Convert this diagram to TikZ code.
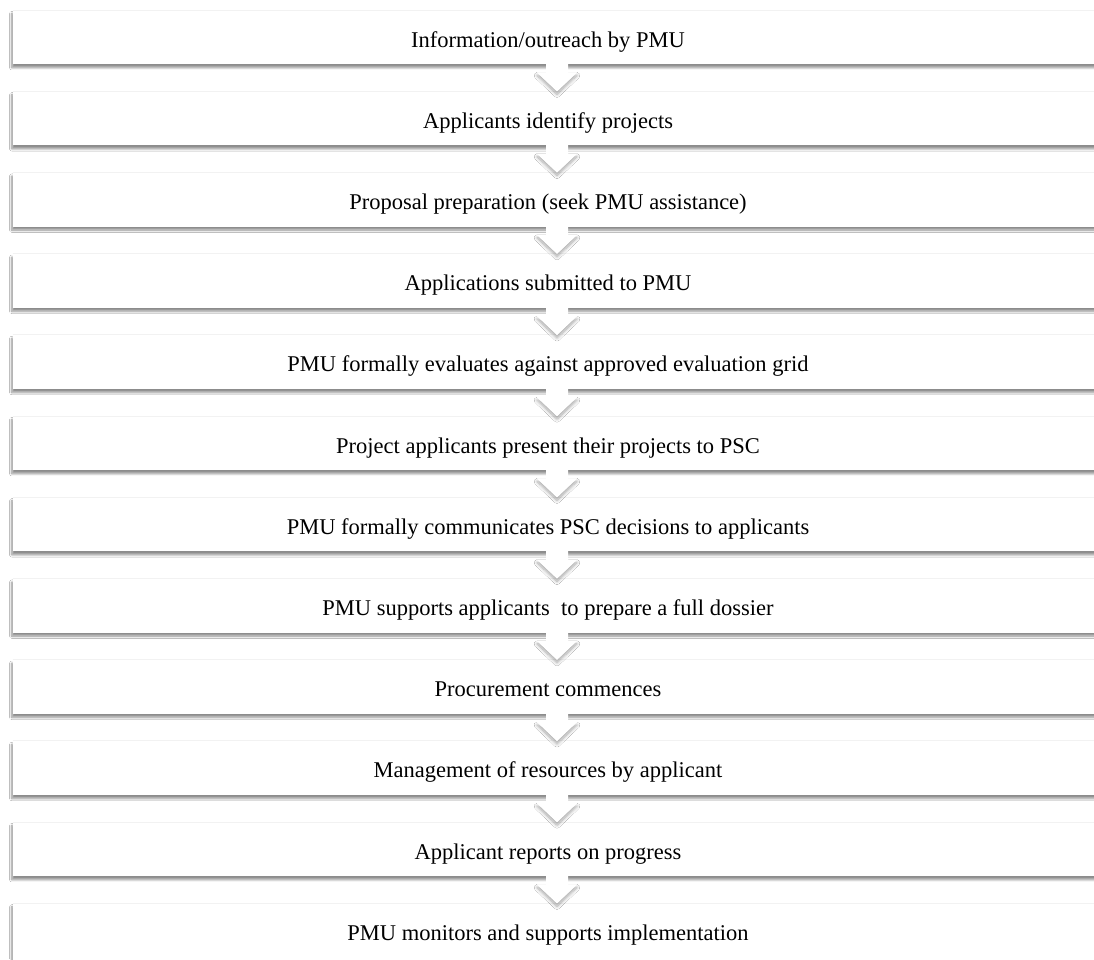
\documentclass[tikz,border=0pt]{standalone}
\usepackage{fontspec}
\setmainfont{Liberation Serif}
\usetikzlibrary{shadows.blur,calc}
\tikzset{
  stepbox/.style={rectangle, fill=white, inner sep=0pt, minimum width=1097pt, anchor=north,
    blur shadow={shadow xshift=-1.2pt, shadow yshift=-3.5pt, shadow blur radius=2.2pt, shadow blur steps=10, shadow opacity=45}},
  steplbl/.style={anchor=base, inner sep=0pt, font=\fontsize{22.5}{27}\selectfont, text=black},
  headshadow/.style={blur shadow={shadow xshift=0pt, shadow yshift=-3pt, shadow blur radius=3pt, shadow blur steps=10, shadow opacity=35}, fill=white},
  arrowfill/.style={fill=white}
}
\begin{document}
\begin{tikzpicture}[x=1pt,y=-1pt]
\useasboundingbox (0,0) rectangle (1094,959);
\fill[white] (0,0) rectangle (1094,959);
\clip (0,0) rectangle (1094,959);
\foreach \txt [count=\i] in {
  Information/outreach by PMU,
  Applicants identify projects,
  Proposal preparation (seek PMU assistance),
  Applications submitted to PMU,
  PMU formally evaluates against approved evaluation grid,
  Project applicants present their projects to PSC,
  PMU formally communicates PSC decisions to applicants,
  PMU supports applicants~ to prepare a full dossier,
  Procurement commences,
  Management of resources by applicant,
  Applicant reports on progress,
  PMU monitors and supports implementation}{
  \pgfmathsetmacro\t{10+81.2*(\i-1)}
  \pgfmathsetmacro\h{\i==12 ? 90 : 54}
  \node[stepbox, minimum height=\h pt] (b\i) at (561.5,\t) {};
  \draw[black!5, line width=0.8pt] (b\i.north west) -- (b\i.north east);
  \node[steplbl] (t\i) at (548,\t+37) {\txt};
}
\foreach \i [evaluate=\i as \j using int(\i+1)] in {1,...,11}{
  \coordinate (p) at (b\i.south -| 557,0);
  \coordinate (q) at (b\j.north -| 557,0);
  \begin{scope}[shift={(p)}]
    \path[headshadow] (-20,8) -- (20,8) -- (0,27) -- cycle;
    \fill[arrowfill] (-11,-4) -- (11,-4) -- (11,8) -- (20,8) -- (q) -- (-20,8) -- (-11,8) -- cycle;
  \end{scope}
}
\end{tikzpicture}
\end{document}
